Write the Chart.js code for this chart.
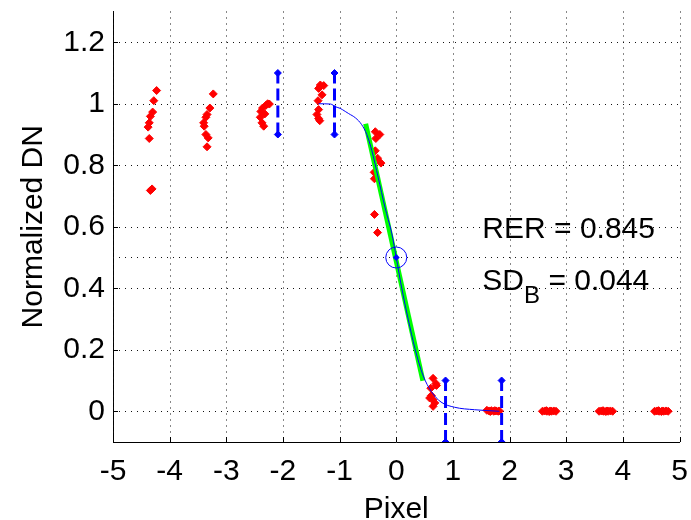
<!DOCTYPE html>
<html lang="en">
<head>
<meta charset="UTF-8">
<title>Edge response - RER</title>
<script src="https://cdn.jsdelivr.net/npm/chart.js"></script>
<style>
  body { margin: 0; background: #ffffff; }
  .wrap { width: 691px; height: 520px; }
</style>
</head>
<body>
<div class="wrap"><canvas id="esf" width="691" height="520"></canvas></div>
<script>
// edge samples (red)
const sampleX = [
  -4.23, -4.28, -4.30, -4.34, -4.36, -4.38, -4.36, -4.31, -4.34,
  -3.23, -3.29, -3.34, -3.36, -3.40, -3.39, -3.36, -3.32, -3.34,
  -2.24, -2.30, -2.36, -2.39, -2.32, -2.40, -2.37, -2.34, -2.27,
  -1.34, -1.28, -1.37, -1.31, -1.38, -1.37, -1.40, -1.37, -1.35,
  -0.37, -0.29, -0.36, -0.37, -0.33, -0.27, -0.39, -0.385, -0.385, -0.33,
  0.65, 0.71, 0.61, 0.62, 0.65, 0.68, 0.65, 0.59, 0.70,
  1.60, 1.64, 1.68, 1.72, 1.76, 1.80, 1.66, 1.74, 1.82,
  2.58, 2.62, 2.66, 2.70, 2.74, 2.78, 2.82, 2.65, 2.72,
  3.58, 3.62, 3.66, 3.70, 3.74, 3.78, 3.82, 3.65, 3.72,
  4.56, 4.60, 4.64, 4.68, 4.72, 4.76, 4.80, 4.63, 4.70
];
const sampleY = [
  1.043, 1.01, 0.973, 0.959, 0.938, 0.924, 0.887, 0.723, 0.718,
  1.032, 0.986, 0.965, 0.956, 0.938, 0.927, 0.90, 0.889, 0.86,
  0.999, 0.995, 0.986, 0.975, 0.967, 0.956, 0.938, 0.927, 1.0,
  1.061, 1.059, 1.05, 1.029, 1.01, 0.981, 0.965, 0.952, 0.945,
  0.909, 0.90, 0.887, 0.847, 0.823, 0.807, 0.777, 0.756, 0.64, 0.581,
  0.107, 0.084, 0.075, 0.051, 0.037, 0.027, 0.016, 0.043, 0.09,
  0.003, 0.001, 0.002, 0.0, 0.001, 0.0, -0.001, 0.002, 0.001,
  0.0, 0.001, 0.0, -0.001, 0.0, 0.001, 0.0, 0.002, 0.001,
  0.0, 0.001, 0.0, -0.001, 0.0, 0.001, 0.0, 0.002, 0.001,
  0.0, 0.001, 0.0, -0.001, 0.0, 0.001, 0.0, 0.002, 0.001
];

// fitted edge (blue)
const fitX = [-1.37, -1.16, -1.07, -0.99, -0.90, -0.84, -0.72, -0.61, -0.52, -0.43, -0.32, -0.20, -0.08, 0.0,
  0.09, 0.21, 0.33, 0.47, 0.62, 0.79, 1.03, 1.38, 1.82];
const fitY = [1.0, 0.999, 0.99, 0.985, 0.975, 0.968, 0.954, 0.932, 0.90, 0.847, 0.761, 0.664, 0.579, 0.5,
  0.407, 0.30, 0.204, 0.118, 0.064, 0.030, 0.013, 0.005, 0.0];

// slope segment (green)
const slopeX = [-0.54, 0.47];
const slopeY = [0.935, 0.099];

// dashed blue markers
const markX = [-2.09, -1.09, 0.87, 1.86];
const markLow = [0.9, 0.9, -0.1, -0.1];
const markHigh = [1.1, 1.1, 0.1, 0.1];

// edge centre and half level
const centreX = 0;
const centreY = 0.5;
const halfX = [-5, 5];
const halfY = [0.5, 0.5];

const xTicks = [-5, -4, -3, -2, -1, 0, 1, 2, 3, 4, 5];
const yTicks = [0, 0.2, 0.4, 0.6, 0.8, 1, 1.2];

const rerText = 'RER = 0.845';
const sdText = ['SD', 'B', ' = 0.044'];
const rerPos = [1.52, 0.565];
const sdPos = [1.52, 0.395];

const fontFam = "'Liberation Sans', Arial, sans-serif";
const pts = (xs, ys) => xs.map((x, i) => ({ x: x, y: ys[i] }));

// grid, inward ticks, labels like matlab
const matlabLook = {
  id: 'matlabLook',
  beforeDatasetsDraw(chart) {
    const { ctx, chartArea: a, scales } = chart;
    const sx = scales.x, sy = scales.y;
    ctx.save();
    ctx.strokeStyle = '#111';
    ctx.lineWidth = 1;
    ctx.setLineDash([1, 5]);
    xTicks.forEach(v => {
      const px = Math.round(sx.getPixelForValue(v)) + 0.5;
      ctx.beginPath(); ctx.moveTo(px, a.top); ctx.lineTo(px, a.bottom); ctx.stroke();
    });
    yTicks.forEach(v => {
      const py = Math.round(sy.getPixelForValue(v)) + 0.5;
      ctx.beginPath(); ctx.moveTo(a.left, py); ctx.lineTo(a.right, py); ctx.stroke();
    });
    ctx.setLineDash([]);
    ctx.strokeStyle = '#000';
    xTicks.forEach(v => {
      const px = Math.round(sx.getPixelForValue(v)) + 0.5;
      ctx.beginPath(); ctx.moveTo(px, a.bottom); ctx.lineTo(px, a.bottom - 5); ctx.stroke();
    });
    yTicks.forEach(v => {
      const py = Math.round(sy.getPixelForValue(v)) + 0.5;
      ctx.beginPath(); ctx.moveTo(a.left, py); ctx.lineTo(a.left + 5, py); ctx.stroke();
    });
    ctx.restore();
  },
  afterDraw(chart) {
    const { ctx, chartArea: a, scales } = chart;
    const sx = scales.x, sy = scales.y;
    ctx.save();
    ctx.fillStyle = '#000';
    ctx.textBaseline = 'alphabetic';
    ctx.font = '30px ' + fontFam;
    ctx.textAlign = 'left';
    ctx.fillText(rerText, sx.getPixelForValue(rerPos[0]), sy.getPixelForValue(rerPos[1]));

    let px = sx.getPixelForValue(sdPos[0]);
    const py = sy.getPixelForValue(sdPos[1]);
    ctx.fillText(sdText[0], px, py);
    px += ctx.measureText(sdText[0]).width;
    ctx.font = '24px ' + fontFam;
    ctx.fillText(sdText[1], px, py + 13);
    px += ctx.measureText(sdText[1]).width;
    ctx.font = '30px ' + fontFam;
    ctx.fillText(sdText[2], px, py);

    // axis titles
    ctx.textAlign = 'center';
    ctx.fillText('Pixel', (a.left + a.right) / 2, 518);
    ctx.translate(42, (a.top + a.bottom) / 2);
    ctx.rotate(-Math.PI / 2);
    ctx.fillText('Normalized DN', 0, 0);
    ctx.restore();
  }
};

const datasets = [
  {
    label: 'half level', data: pts(halfX, halfY), showLine: true,
    borderColor: '#111', borderWidth: 1, borderDash: [1, 5], pointRadius: 0, order: 6
  },
  {
    label: 'samples', data: pts(sampleX, sampleY), showLine: false,
    pointStyle: 'rectRot', pointRadius: 4, pointBackgroundColor: '#ff0000',
    pointBorderColor: '#ff0000', pointBorderWidth: 1, order: 5
  },
  {
    label: 'slope', data: pts(slopeX, slopeY), showLine: true,
    borderColor: '#00ff00', borderWidth: 5, pointRadius: 0, order: 4
  },
  {
    label: 'fit', data: pts(fitX, fitY), showLine: true,
    borderColor: '#0000ff', borderWidth: 1, pointRadius: 0,
    cubicInterpolationMode: 'monotone', order: 3
  },
  {
    label: 'centre ring', data: [{ x: centreX, y: centreY }], showLine: false,
    pointStyle: 'circle', pointRadius: 10.5, pointBackgroundColor: 'rgba(0,0,0,0)',
    pointBorderColor: '#0000ff', pointBorderWidth: 1, order: 2
  },
  {
    label: 'centre', data: [{ x: centreX, y: centreY }], showLine: false,
    pointStyle: 'rectRot', pointRadius: 3.5, pointBackgroundColor: '#0000ff',
    pointBorderColor: '#0000ff', pointBorderWidth: 0, order: 2
  }
];

markX.forEach((x, i) => {
  datasets.push({
    label: 'mark ' + i,
    data: [{ x: x, y: markLow[i] }, { x: x, y: markHigh[i] }],
    showLine: true, borderColor: '#0000ff', borderWidth: 3, borderDash: [12, 5],
    pointStyle: 'rectRot', pointRadius: 3.5, pointBackgroundColor: '#0000ff',
    pointBorderColor: '#0000ff', pointBorderWidth: 1, order: 1
  });
});

const tickFont = { family: fontFam, size: 30 };

new Chart(document.getElementById('esf'), {
  type: 'scatter',
  data: { datasets: datasets },
  options: {
    responsive: false,
    animation: false,
    devicePixelRatio: 1,
    layout: { padding: { top: 6, right: 9, left: 0, bottom: 0 } },
    plugins: { legend: { display: false }, tooltip: { enabled: false } },
    scales: {
      x: {
        type: 'linear', min: -5, max: 5,
        afterBuildTicks: s => { s.ticks = xTicks.map(v => ({ value: v })); },
        afterFit: s => { s.height = 78; s.paddingLeft = 0; s.paddingRight = 0; },
        grid: { display: false, drawTicks: false },
        border: { display: true, color: '#000', width: 1 },
        ticks: { font: tickFont, color: '#000', padding: 12, maxRotation: 0, callback: v => String(v) }
      },
      y: {
        type: 'linear', min: -0.1, max: 1.3,
        afterBuildTicks: s => { s.ticks = yTicks.map(v => ({ value: v })); },
        afterFit: s => { s.width = 113; s.paddingTop = 0; s.paddingBottom = 0; },
        grid: { display: false, drawTicks: false },
        border: { display: true, color: '#000', width: 1 },
        ticks: { font: tickFont, color: '#000', padding: 8, callback: v => String(Math.round(v * 10) / 10) }
      }
    }
  },
  plugins: [matlabLook]
});
</script>
</body>
</html>
